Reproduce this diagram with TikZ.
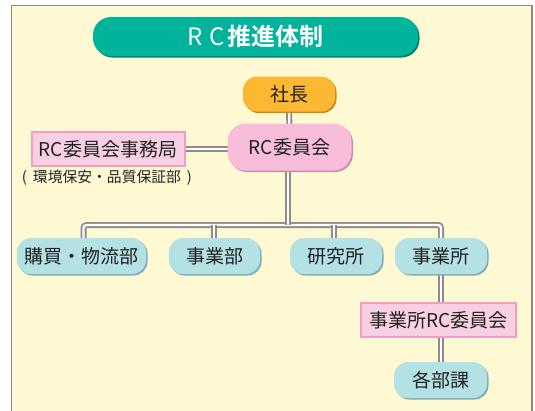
\documentclass[tikz,border=0pt]{standalone}
\usepackage{fontspec}
\setmainfont{Noto Sans CJK JP}
\newfontfamily\cjkbold{Noto Sans CJK JP Bold}
\usetikzlibrary{shadows}
\definecolor{panelbg}{HTML}{FFF9D3}
\definecolor{panelline}{HTML}{8A8A8A}
\definecolor{teal}{HTML}{00B39B}
\definecolor{tealdark}{HTML}{00806E}
\definecolor{orangebox}{HTML}{FDB833}
\definecolor{orangedark}{HTML}{C98A1A}
\definecolor{pinkpill}{HTML}{F7BDDA}
\definecolor{pinkdark}{HTML}{C98DAB}
\definecolor{pinkrect}{HTML}{F9D0E3}
\definecolor{pinkline}{HTML}{F19DC4}
\definecolor{bluebox}{HTML}{B3E1E4}
\definecolor{bluedark}{HTML}{7FAEB2}
\definecolor{pipegray}{HTML}{8C8C8C}
\definecolor{txt}{HTML}{222222}
\pgfdeclarelayer{bg}
\pgfdeclarelayer{pipes}
\pgfsetlayers{bg,pipes,main}
\tikzset{
  boxtext/.style={font=\fontsize{19}{19}\selectfont, text=txt, inner sep=0pt},
  pill/.style={boxtext, rounded corners=14pt, minimum height=36pt,
    drop shadow={shadow xshift=1.5pt, shadow yshift=-1.5pt, fill=#1, opacity=1}},
  bluepill/.style={pill=bluedark, fill=bluebox, minimum width=92pt},
  pinkbox/.style={boxtext, fill=pinkrect, draw=pinkline, line width=2pt, minimum height=34pt},
  pipe/.style={draw=pipegray, line width=1.8pt, double=white, double distance=2.4pt},
}
\begin{document}
\begin{tikzpicture}[x=1pt,y=-1pt]
\useasboundingbox (0,0) rectangle (535,410);
\begin{pgfonlayer}{bg}
  \fill[white] (0,0) rectangle (535,410);
  \draw[panelline, line width=1.5pt, fill=panelbg] (11.5,5.5) rectangle (532,415);
\end{pgfonlayer}

% title
\node[pill=tealdark, fill=teal, rounded corners=18pt, minimum width=325pt, minimum height=39pt,
      text=white, font=\fontsize{24}{24}\selectfont] (title) at (255.5,36.5)
      {R\hspace{7pt}C\hspace{2pt}{\cjkbold 推進体制}};

% top
\node[pill=orangedark, fill=orangebox, minimum width=92pt, minimum height=35pt] (shacho) at (289,94) {社長};
\node[pill=pinkdark, fill=pinkpill, rounded corners=18pt, minimum width=124pt, minimum height=47pt] (rc) at (289.5,147) {RC委員会};
\node[pinkbox, minimum width=153pt] (jimu) at (108,149) {RC委員会事務局};
\node[font=\fontsize{14.8}{14.8}\selectfont, text=txt, inner sep=0pt] (sub) at (107,178) {(\hspace{6pt}環境保安・品質保証部\hspace{6pt})};

% row
\node[bluepill, minimum width=129pt] (koubai) at (81.5,256) {購買・物流部};
\node[bluepill, minimum width=91pt] (jigyobu) at (214.5,256) {事業部};
\node[bluepill] (kenkyu) at (336,256) {研究所};
\node[bluepill] (jigyosho) at (441,256) {事業所};

\node[pinkbox, minimum width=155pt] (jrc) at (438.5,320) {事業所RC委員会};
\node[bluepill, minimum width=93pt] (kabu) at (440.5,380) {各部課};

\coordinate (bus) at (0,225);
\coordinate (d1) at (83.5,256);
\coordinate (d2) at (214,256);
\coordinate (d3) at (334,256);
\coordinate (d4) at (441,256);
\coordinate (vx) at (288,0);

\begin{pgfonlayer}{pipes}
  \draw[pipe] (shacho.center) -- (rc.center);
  \draw[pipe] (jimu.center) -- (jimu.center -| rc.center);
  \draw[pipe, rounded corners=3pt] (d1) -- (d1 |- bus) -- (d4 |- bus) -- (d4);
  \draw[pipe] (vx |- rc.center) -- (vx |- bus);
  \draw[pipe] (d2 |- bus) -- (d2);
  \draw[pipe] (d3 |- bus) -- (d3);
  \draw[pipe] (d4) -- (d4 |- jrc.center);
  \draw[pipe] (d4 |- jrc.center) -- (d4 |- kabu.center);
\end{pgfonlayer}
\end{tikzpicture}
\end{document}
